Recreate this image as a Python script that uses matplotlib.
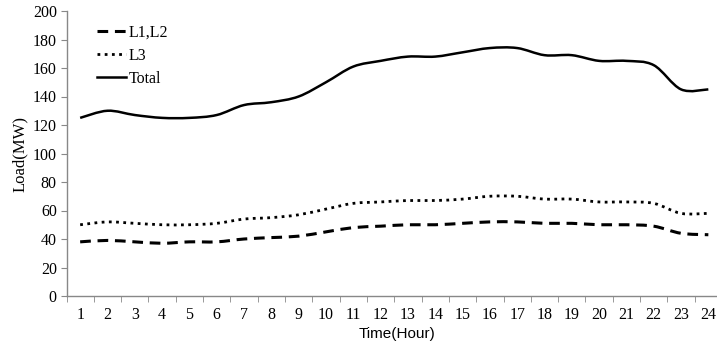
import numpy as np
import matplotlib
matplotlib.use("Agg")
import matplotlib.pyplot as plt
from matplotlib.path import Path
from matplotlib.patches import PathPatch
from matplotlib.lines import Line2D

hours = list(range(1, 25))
load_l12 = [38, 39, 38, 37, 38, 38, 40, 41, 42, 45, 48, 49,
            50, 50, 51, 52, 52, 51, 51, 50, 50, 49, 44, 43]
load_l3 = [50, 52, 51, 50, 50, 51, 54, 55, 57, 61, 65, 66,
           67, 67, 68, 70, 70, 68, 68, 66, 66, 65, 58, 58]
load_total = [125, 130, 127, 125, 125, 127, 134, 136, 140, 150, 161, 165,
              168, 168, 171, 174, 174, 169, 169, 165, 165, 162, 145, 145]
y_ticks = list(range(0, 201, 20))

SERIF = "Liberation Serif"
SANS = "Liberation Sans"
AXIS_GREY = "#888888"


def smooth_path(xs, ys):
    """Excel-style smoothed line: cubic Bezier segments through every point"""
    pts = np.column_stack([xs, ys]).astype(float)
    verts = [pts[0]]
    codes = [Path.MOVETO]
    n = len(pts)
    for i in range(n - 1):
        p0 = pts[i - 1] if i > 0 else pts[i]
        p1 = pts[i]
        p2 = pts[i + 1]
        p3 = pts[i + 2] if i + 2 < n else pts[i + 1]
        c1 = p1 + (p2 - p0) / 6.0
        c2 = p2 - (p3 - p1) / 6.0
        verts += [c1, c2, p2]
        codes += [Path.CURVE4] * 3
    return Path(verts, codes)


fig = plt.figure(figsize=(7.17, 3.47), dpi=100)
ax_w = (722 - 66.5)
ax = fig.add_axes([66.5 / 717, 51 / 347, ax_w / 717, (296 - 11) / 347])

series = [
    (load_l12, "L1,L2", dict(linestyle=(0, (3.5, 2.2)), linewidth=2.2)),
    (load_l3, "L3", dict(linestyle=(0, (1, 1.6)), linewidth=2.0)),
    (load_total, "Total", dict(linestyle="-", linewidth=1.8)),
]
handles = []
for values, label, style in series:
    patch = PathPatch(smooth_path(hours, values), fill=False, edgecolor="black",
                      capstyle="butt", **style)
    ax.add_patch(patch)
    handles.append(Line2D([], [], color="black", label=label, **style))

ax.set_xlim(0.5, 24.5)
ax.set_ylim(0, 200)
ax.set_yticks(y_ticks)
ax.set_xticks(hours)
ax.set_xticks(np.arange(0.5, 25, 1), minor=True)
ax.tick_params(axis="x", which="major", length=0, pad=8)
ax.tick_params(axis="x", which="minor", length=4, color=AXIS_GREY, direction="out")
ax.tick_params(axis="y", length=4, color=AXIS_GREY, direction="out", pad=3)
for lab in ax.get_xticklabels() + ax.get_yticklabels():
    lab.set_fontfamily(SERIF)
    lab.set_fontsize(11.5)

for side in ["top", "right"]:
    ax.spines[side].set_visible(False)
for side in ["left", "bottom"]:
    ax.spines[side].set_color(AXIS_GREY)
    ax.spines[side].set_linewidth(1.0)

ax.set_xlabel("Time(Hour)", fontfamily=SANS, fontsize=11)
ax.xaxis.set_label_coords((397 - 66.5) / ax_w, -(327 - 296) / 285)
ax.set_ylabel("Load(MW)", fontfamily=SERIF, fontsize=12)
ax.yaxis.set_label_coords(-(67 - 28) / ax_w, 0.5)

ax.legend(handles=handles, loc="upper left", bbox_to_anchor=(0.037, 0.975),
          frameon=False, prop={"family": SERIF, "size": 11.5},
          handlelength=1.8, handletextpad=0.15, labelspacing=0.45, borderaxespad=0)

fig.savefig("out.png", dpi=100)
